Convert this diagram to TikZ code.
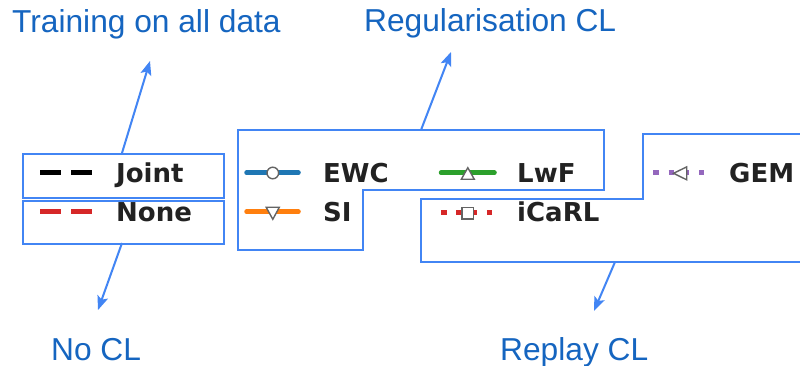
\documentclass[tikz,border=0pt]{standalone}
\usepackage{fontspec}
\setmainfont{Liberation Sans}
\newfontfamily\legendfont{DejaVu Sans}
\usetikzlibrary{arrows.meta}

\definecolor{boxblue}{RGB}{66,133,244}
\definecolor{labelblue}{RGB}{21,101,192}
\definecolor{mplblue}{RGB}{31,119,180}
\definecolor{mplorange}{RGB}{255,127,14}
\definecolor{mplgreen}{RGB}{44,160,44}
\definecolor{mplred}{RGB}{214,39,40}
\definecolor{mplpurple}{RGB}{148,103,189}
\definecolor{markedge}{RGB}{100,100,100}
\definecolor{legendtext}{RGB}{34,34,34}

\tikzset{
  frame/.style={draw=boxblue, line width=2},
  pointer/.style={draw=boxblue, line width=2, -{Stealth[length=14,width=11,inset=3]}},
  caption/.style={text=labelblue, font=\fontsize{31.7}{38}\selectfont, inner sep=0, anchor=base west},
  entry/.style={text=legendtext, font=\legendfont\bfseries\fontsize{26}{31}\selectfont, inner sep=0, anchor=base west},
  solidseries/.style={line width=4.5, line cap=round},
  dashseries/.style={line width=5, dash pattern=on 21 off 10},
  dotseries/.style={line width=5, dash pattern=on 5.5 off 9.8},
  marker/.style={draw=markedge, fill=white, line width=1.4, line join=miter},
}

\begin{document}
\begin{tikzpicture}[x=1pt, y=-1pt]
\useasboundingbox (0,0) rectangle (800,366);
\fill[white] (0,0) rectangle (800,366);

% legend frames
\node[frame, minimum width=201, minimum height=44, anchor=north west, inner sep=0] (jointbox) at (22,153) {};
\node[frame, minimum width=201, minimum height=43, anchor=north west, inner sep=0] (nonebox) at (22,200) {};
\draw[frame] (238,130) -- (604,130) -- (604,190) -- (363,190) -- (363,250) -- (238,250) -- cycle;
\draw[frame] (800,134) -- (643,134) -- (643,199) -- (421,199) -- (421,262) -- (800,262);

% legend samples
\draw[dashseries, black] (40,172.5) -- (92,172.5);
\draw[dashseries, mplred] (40,211.5) -- (92,211.5);

\draw[solidseries, mplblue] (246.5,172.7) -- (298.5,172.7);
\draw[marker] (272.8,173) circle (5.8);

\draw[solidseries, mplgreen] (441,172.7) -- (494.5,172.7);
\draw[marker] (461.3,179.3) -- (474.3,179.3) -- (467.8,167.7) -- cycle;

\draw[solidseries, mplorange] (246.5,211.7) -- (298.5,211.7);
\draw[marker] (266.2,207.3) -- (279.3,207.3) -- (272.8,219.3) -- cycle;

\draw[dotseries, mplred] (441,212.7) -- (492,212.7);
\draw[marker] (462,207.3) rectangle (473.3,218.8);

\draw[dotseries, mplpurple] (653.3,172.7) -- (704.3,172.7);
\draw[marker] (673.5,173.3) -- (686.7,166.9) -- (686.7,179.8) -- cycle;

% legend names
\node[entry] (joint) at (116,183) {Joint};
\node[entry] (none) at (116,222) {None};
\node[entry] (ewc) at (323,183) {EWC};
\node[entry] (lwf) at (517,183) {LwF};
\node[entry] (si) at (323,222) {SI};
\node[entry] (icarl) at (517,222) {iCaRL};
\node[entry] (gem) at (729,183) {GEM};

% group captions
\node[caption] (alldata) at (12,33) {Training on all data};
\node[caption] (regcl) at (364,31.5) {Regularisation CL};
\node[caption] (nocl) at (51,360) {No CL};
\node[caption] (replaycl) at (500,360) {Replay CL};

% pointers from the frames towards the captions
\coordinate (jointtop) at (122,153);
\coordinate (alldatatip) at (150,61);
\coordinate (regtop) at (421,130);
\coordinate (regtip) at (451,52);
\coordinate (nonebottom) at (122,243);
\coordinate (nocltip) at (98,310);
\coordinate (replaybottom) at (615,262);
\coordinate (replaytip) at (594,311);

\draw[pointer] (jointtop) -- (alldatatip);
\draw[pointer] (regtop) -- (regtip);
\draw[pointer] (nonebottom) -- (nocltip);
\draw[pointer] (replaybottom) -- (replaytip);
\end{tikzpicture}
\end{document}
